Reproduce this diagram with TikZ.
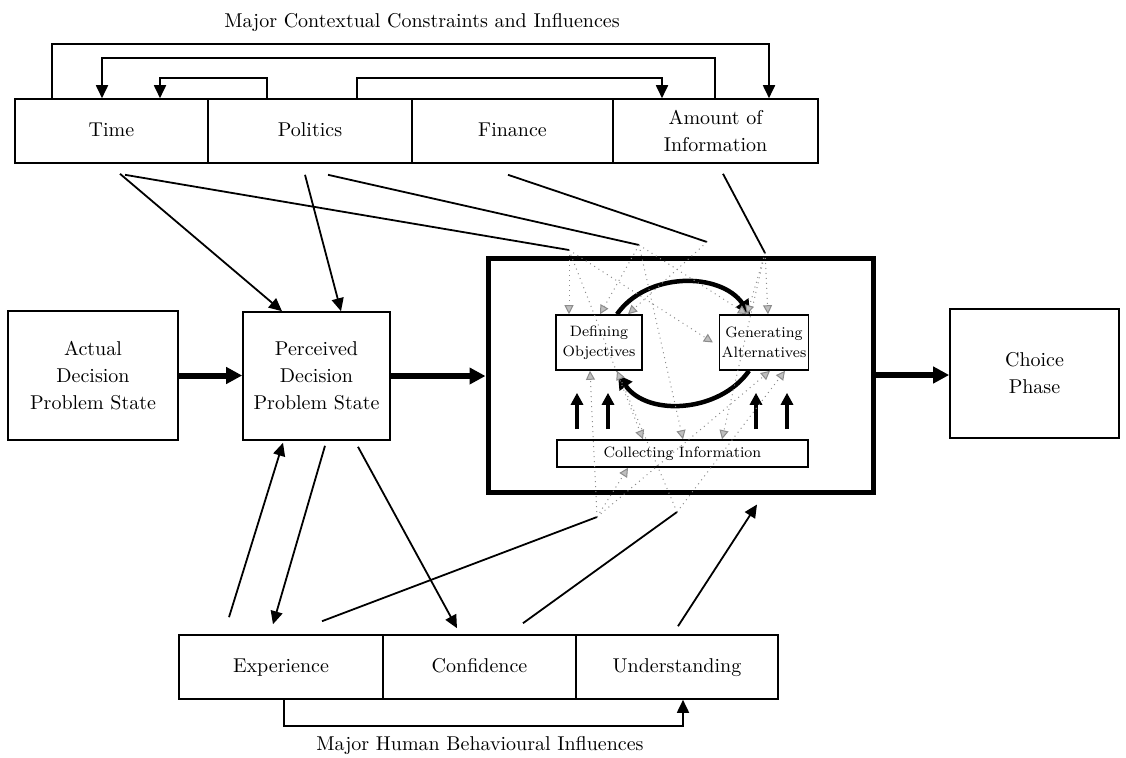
\documentclass[tikz,border=0pt]{standalone}
\usetikzlibrary{positioning,arrows.meta}

\begin{document}
\begin{tikzpicture}[
    x=0.5pt, y=0.5pt,
    box/.style={
        rectangle,
        draw,
        line width=0.8pt,
        align=center,
        inner sep=2pt,
        font=\fontsize{10}{13.5}\selectfont
    },
    rowbox/.style={
        box,
        text height=7pt,
        text depth=2pt,
        minimum height=32pt
    },
    inbox/.style={
        rectangle,
        draw,
        line width=0.8pt,
        align=center,
        inner sep=1pt,
        font=\fontsize{7.5}{10}\selectfont
    },
    bigbox/.style={
        rectangle,
        draw,
        line width=2.5pt
    },
    heading/.style={
        font=\fontsize{10}{12}\selectfont
    },
    link/.style={
        line width=0.9pt
    },
    arrow/.style={
        link,
        -{Triangle[length=6.5pt,width=6pt]}
    },
    bigarrow/.style={
        line width=3pt,
        -{Triangle[length=8pt,width=8pt]}
    },
    uparrow/.style={
        line width=2pt,
        -{Triangle[length=6pt,width=6pt]}
    },
    turn/.style={
        line width=2.25pt,
        -{Triangle[length=7pt,width=7.5pt]}
    },
    fan/.style={
        draw=black!45,
        dotted,
        line width=0.5pt,
        -{Triangle[length=4.5pt,width=4.5pt,fill=black!25,color=black!45]}
    }
]
\useasboundingbox (0,0) rectangle (1126,-757);

\node[heading] (ctitle) at (422,-22) {Major Contextual Constraints and Influences};
\node[heading] (htitle) at (480,-745) {Major Human Behavioural Influences};

% contextual constraints
\node[rowbox, minimum width=96.5pt] (time) at (111.5,-131) {Time};
\node[rowbox, minimum width=102pt] (politics) at (310,-131) {Politics};
\node[rowbox, minimum width=100.5pt] (finance) at (512.5,-131) {Finance};
\node[box, minimum width=102.5pt, minimum height=32pt] (amount) at (715.5,-131) {Amount of\\Information};

% decision problem
\node[box, minimum width=85pt, minimum height=64.5pt] (actual) at (93,-375.5) {Actual\\Decision\\Problem State};
\node[box, minimum width=73.5pt, minimum height=64pt] (perceived) at (316.5,-376) {Perceived\\Decision\\Problem State};
\node[bigbox, minimum width=192.5pt, minimum height=117pt] (stage) at (680.5,-375) {};
\node[inbox, minimum width=43pt, minimum height=27.5pt] (defobj) at (599,-342.5) {Defining\\Objectives};
\node[inbox, minimum width=44pt, minimum height=27.5pt] (genalt) at (764,-342.5) {Generating\\Alternatives};
\node[inbox, minimum width=125.5pt, minimum height=13.5pt] (collect) at (682.5,-453.5) {Collecting Information};
\node[box, minimum width=84.5pt, minimum height=64.5pt] (choice) at (1034.5,-373.5) {Choice\\Phase};

% behavioural influences
\node[rowbox, minimum width=102pt] (experience) at (281,-667) {Experience};
\node[rowbox, minimum width=96.5pt] (confidence) at (479.5,-667) {Confidence};
\node[rowbox, minimum width=101pt] (understanding) at (677,-667) {Understanding};

\coordinate (p1) at (569,-250);
\coordinate (p2) at (639,-245);
\coordinate (p3) at (707,-242);
\coordinate (p4) at (765,-253);
\coordinate (q1) at (597,-517);
\coordinate (q2) at (677,-512);

% links between the constraints
\draw[arrow] ([xshift=-29.75pt]time.north) -- ++(0,54) -| ([xshift=26.75pt]amount.north);
\draw[arrow] ([xshift=-0.25pt]amount.north) -- ++(0,40) -| ([xshift=-4.75pt]time.north);
\draw[arrow] ([xshift=-21.5pt]politics.north) -- ++(0,20) -| ([xshift=24.25pt]time.north);
\draw[arrow] ([xshift=23.5pt]politics.north) -- ++(0,20) -| ([xshift=-26.75pt]amount.north);

\draw[arrow] ([xshift=4.25pt,yshift=-5pt]time.south) -- ([xshift=-17.25pt]perceived.north);
\draw[link] ([xshift=6.75pt,yshift=-5.5pt]time.south) -- (p1);
\draw[arrow] ([xshift=-2.5pt,yshift=-5.5pt]politics.south) -- ([xshift=12.25pt]perceived.north);
\draw[link] ([xshift=9pt,yshift=-5.5pt]politics.south) -- (p2);
\draw[link] ([xshift=-2.25pt,yshift=-5.5pt]finance.south) -- (p3);
\draw[link] ([xshift=3.75pt,yshift=-5pt]amount.south) -- (p4);

\draw[arrow] ([xshift=4.25pt,yshift=-2.5pt]perceived.south) -- ([xshift=-4pt,yshift=5pt]experience.north);
\draw[arrow] ([xshift=-26pt,yshift=8.5pt]experience.north) -- ([xshift=-16.75pt,yshift=-1pt]perceived.south);
\draw[arrow] ([xshift=20.75pt,yshift=-3pt]perceived.south) -- ([xshift=-11.25pt,yshift=3pt]confidence.north);
\draw[link] ([xshift=20.5pt,yshift=6.5pt]experience.north) -- (q1);
\draw[link] ([xshift=21.75pt,yshift=5.5pt]confidence.north) -- (q2);
\draw[arrow] ([xshift=0.5pt,yshift=4pt]understanding.north) -- ([xshift=38.25pt,yshift=-5pt]stage.south);
\draw[arrow] ([xshift=1.5pt]experience.south) -- ++(0,-26) -| ([xshift=3pt]understanding.south);

% main flow
\draw[bigarrow] (actual.east) -- (actual.east -| perceived.west);
\draw[bigarrow] (perceived.east) -- (perceived.east -| stage.west);
\draw[bigarrow] (stage.east) -- (stage.east -| choice.west);

% inside the structuring stage
\draw[turn] ([xshift=9pt]defobj.north) to[out=55,in=125] ([xshift=-7pt]genalt.north);
\draw[turn] ([xshift=-7.5pt]genalt.south) to[out=-125,in=-55] ([xshift=9.5pt,yshift=-2pt]defobj.south);

\draw[uparrow] ([xshift=-52.75pt,yshift=5pt]collect.north) -- ([xshift=-11pt,yshift=-11pt]defobj.south);
\draw[uparrow] ([xshift=-37.25pt,yshift=5pt]collect.north) -- ([xshift=4.5pt,yshift=-11pt]defobj.south);
\draw[uparrow] ([xshift=36.75pt,yshift=5pt]collect.north) -- ([xshift=-4pt,yshift=-11pt]genalt.south);
\draw[uparrow] ([xshift=52.25pt,yshift=5pt]collect.north) -- ([xshift=11.5pt,yshift=-11pt]genalt.south);

% spread of the influences
\draw[fan] (p1) -- ([xshift=-15pt]defobj.north);
\draw[fan] (p1) -- ([xshift=-3pt]genalt.west);
\draw[fan] (p1) -- ([xshift=-19.75pt]collect.north);
\draw[fan] (p2) -- ([xshift=0.5pt]defobj.north);
\draw[fan] (p2) -- ([xshift=-8.5pt]genalt.north);
\draw[fan] (p2) -- ([xshift=0.25pt]collect.north);
\draw[fan] (p3) -- ([xshift=14.5pt]defobj.north);
\draw[fan] (p4) -- ([xshift=-8.5pt]genalt.north);
\draw[fan] (p4) -- ([xshift=2pt]genalt.north);
\draw[fan] (p4) -- ([xshift=19.75pt]collect.north);
\draw[fan] (q1) -- ([xshift=-4.5pt]defobj.south);
\draw[fan] (q1) -- ([xshift=3pt]genalt.south);
\draw[fan] (q1) -- ([xshift=-27.25pt]collect.south);
\draw[fan] (q2) -- ([xshift=9pt]defobj.south);
\draw[fan] (q2) -- ([xshift=10.5pt]genalt.south);

\end{tikzpicture}
\end{document}
